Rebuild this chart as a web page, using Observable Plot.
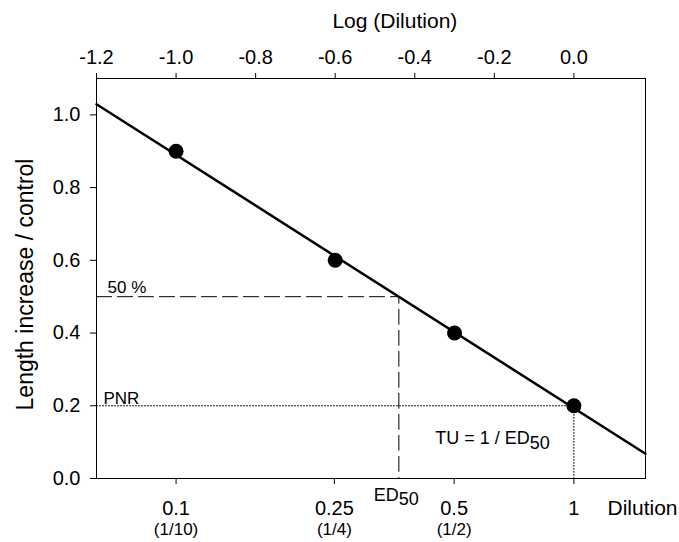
<!DOCTYPE html>
<html>
<head>
<meta charset="utf-8">
<script src="https://cdn.jsdelivr.net/npm/d3@7"></script>
<script src="https://cdn.jsdelivr.net/npm/@observablehq/plot@0.6"></script>
<style>
  html, body { margin: 0; padding: 0; background: white; }
</style>
</head>
<body>
<div id="chart"></div>
<script>
// ---- data ----
const logTicks = [-1.2, -1.0, -0.8, -0.6, -0.4, -0.2, 0.0];
const yTicks = [0, 0.2, 0.4, 0.6, 0.8, 1.0];
const dilutions = [0.1, 0.25, 0.5, 1];
const dilutionLabels = ["0.1", "0.25", "0.5", "1"];
const fractionLabels = ["(1/10)", "(1/4)", "(1/2)", ""];
const pointsLogX = [-1.0, -0.6, -0.3, 0.0];
const pointsY = [0.90, 0.60, 0.40, 0.20];
const fitLogX = [-1.2, 0.18];
const fitY = [1.029, 0.068];
const ed50LogX = -0.44;
const halfLevel = 0.5;
const pnrLevel = 0.2;
const pnrLogX = 0.0;
const tuLabelPos = [-0.111, 0.096];

// ---- derived tables ----
const points = pointsLogX.map((x, i) => ({x, y: pointsY[i]}));
const fit = fitLogX.map((x, i) => ({x, y: fitY[i]}));
const dashed = [
  {x: -1.2, y: halfLevel},
  {x: ed50LogX, y: halfLevel},
  {x: ed50LogX, y: 0}
];
const dotted = [
  {x: -1.2, y: pnrLevel},
  {x: pnrLogX, y: pnrLevel},
  {x: pnrLogX, y: 0}
];
const bottomTicks = dilutions.map(d => Math.log10(d));
const fmtBottom = v => {
  const i = bottomTicks.findIndex(t => Math.abs(t - v) < 1e-6);
  return i >= 0 ? dilutionLabels[i] : "";
};
const fractions = dilutions.map((d, i) => ({x: Math.log10(d), label: fractionLabels[i]}));

const chart = Plot.plot({
  width: 679,
  height: 542,
  marginLeft: 96,
  marginRight: 34,
  marginTop: 78,
  marginBottom: 64,
  x: {domain: [-1.2, 0.18]},
  y: {domain: [0, 1.1]},
  style: {fontFamily: "'Liberation Sans', Arial, sans-serif", fontSize: "20px", color: "black", background: "white"},
  marks: [
    Plot.axisX({anchor: "top", ticks: logTicks, tickFormat: d => d.toFixed(1), tickSize: 6, tickPadding: 9, label: null}),
    Plot.axisX({anchor: "bottom", ticks: bottomTicks, tickFormat: fmtBottom, tickSize: 6, tickPadding: 16, label: null}),
    Plot.axisY({ticks: yTicks, tickFormat: d => d.toFixed(1), tickSize: 6, tickPadding: 10, label: null}),
    Plot.frame({stroke: "black", strokeWidth: 1}),
    Plot.text(fractions, {x: "x", y: () => 0, text: "label", fontSize: 17, lineAnchor: "bottom", dy: 56}),
    Plot.text(["Log (Dilution)"], {frameAnchor: "top", x: () => -0.45, fontSize: 21, lineAnchor: "bottom", dy: -51}),
    Plot.text(["Dilution"], {frameAnchor: "bottom-right", textAnchor: "start", fontSize: 21, lineAnchor: "bottom", dx: -38, dy: 36}),
    Plot.text(["Length increase / control"], {frameAnchor: "left", textAnchor: "middle", rotate: -90, fontSize: 23, lineAnchor: "middle", dx: -71, dy: 6}),
    Plot.line(dashed, {x: "x", y: "y", stroke: "black", strokeWidth: 1, strokeDasharray: "15,6"}),
    Plot.line(dotted, {x: "x", y: "y", stroke: "black", strokeWidth: 1, strokeDasharray: "1,2"}),
    Plot.line(fit, {x: "x", y: "y", stroke: "black", strokeWidth: 2.5}),
    Plot.dot(points, {x: "x", y: "y", r: 7.5, fill: "black", stroke: null}),
    Plot.text(["50 %"], {x: () => -1.2, y: () => halfLevel, textAnchor: "start", lineAnchor: "bottom", fontSize: 17, dx: 11, dy: -4}),
    Plot.text(["PNR"], {x: () => -1.2, y: () => pnrLevel, textAnchor: "start", lineAnchor: "bottom", fontSize: 17, dx: 7, dy: -2}),
    Plot.text(["ED"], {x: () => ed50LogX, y: () => 0, textAnchor: "end", lineAnchor: "bottom", fontSize: 18, dy: 22}),
    Plot.text(["50"], {x: () => ed50LogX, y: () => 0, textAnchor: "start", lineAnchor: "bottom", fontSize: 18, dy: 26}),
    Plot.text(["TU = 1 / ED"], {x: () => tuLabelPos[0], y: () => tuLabelPos[1], textAnchor: "end", lineAnchor: "bottom", fontSize: 18}),
    Plot.text(["50"], {x: () => tuLabelPos[0], y: () => tuLabelPos[1], textAnchor: "start", lineAnchor: "bottom", fontSize: 18, dy: 5})
  ]
});
document.getElementById("chart").appendChild(chart);
</script>
</body>
</html>
